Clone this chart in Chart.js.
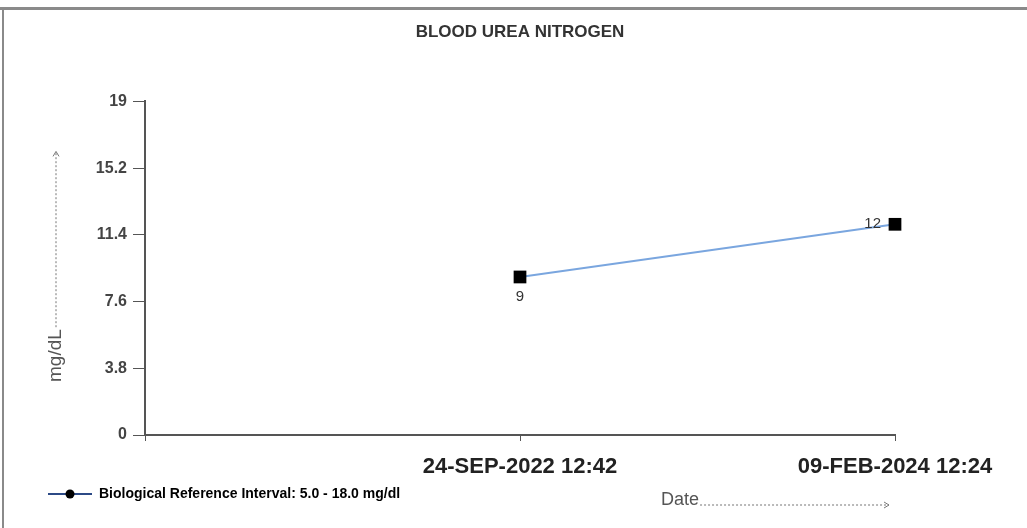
<!DOCTYPE html>
<html>
<head>
<meta charset="utf-8">
<script src="https://cdn.jsdelivr.net/npm/chart.js@4/dist/chart.umd.min.js"></script>
<style>
    html, body { margin: 0; padding: 0; background: #fff; }
    #wrap { width: 1027px; height: 528px; position: relative; }
</style>
</head>
<body>
<div id="wrap"><canvas id="canvas1"></canvas></div>
<script>
// du lieu doc tu hinh
const NgayXN = ['', '24-SEP-2022 12:42', '09-FEB-2024 12:24'];
const GiaTriBUN = [null, 9, 12];
const MocTrucY = [0, 3.8, 7.6, 11.4, 15.2, 19];
const TieuDe = 'BLOOD UREA NITROGEN';
const ChuThich = 'Biological Reference Interval: 5.0 - 18.0 mg/dl';
const TenTrucY = 'mg/dL';
const TenTrucX = 'Date';

const FONT = '"Liberation Sans", Arial, sans-serif';

function HinhChuThich() {
    // line + dot marker for the legend
    const c = document.createElement('canvas');
    c.width = 44;
    c.height = 12;
    const ctx = c.getContext('2d');
    ctx.strokeStyle = '#2c4a86';
    ctx.lineWidth = 2;
    ctx.beginPath();
    ctx.moveTo(0, 6);
    ctx.lineTo(44, 6);
    ctx.stroke();
    ctx.fillStyle = '#000';
    ctx.beginPath();
    ctx.arc(22, 6, 4.5, 0, Math.PI * 2);
    ctx.fill();
    return c;
}

const veThem = {
    id: 'veThem',
    beforeDraw(chart) {
        const ctx = chart.ctx;
        ctx.save();
        ctx.fillStyle = '#8a8a8a';
        ctx.fillRect(0, 7, chart.width, 3);
        ctx.fillRect(2, 7, 2, chart.height - 7);
        ctx.restore();
    },
    afterDatasetsDraw(chart) {
        const ctx = chart.ctx;
        const area = chart.chartArea;
        const meta = chart.getDatasetMeta(0);
        const ds = chart.data.datasets[0].data;
        ctx.save();
        ctx.font = '15px ' + FONT;
        ctx.fillStyle = '#333';
        meta.data.forEach(function (pt, i) {
            if (ds[i] == null) return;
            if (i === ds.length - 1) {
                ctx.textAlign = 'right';
                ctx.textBaseline = 'middle';
                ctx.fillText(ds[i], pt.x - 14, pt.y);
            } else {
                ctx.textAlign = 'center';
                ctx.textBaseline = 'top';
                ctx.fillText(ds[i], pt.x, pt.y + 12);
            }
        });

        // y axis title with dotted arrow
        ctx.save();
        ctx.translate(56, area.bottom - 53);
        ctx.rotate(-Math.PI / 2);
        ctx.font = '19px ' + FONT;
        ctx.fillStyle = '#555';
        ctx.textAlign = 'left';
        ctx.textBaseline = 'middle';
        ctx.fillText(TenTrucY, 0, 0);
        const w = ctx.measureText(TenTrucY).width;
        const len = area.bottom - 53 - (area.top + 50);
        ctx.strokeStyle = '#777';
        ctx.lineWidth = 1;
        ctx.setLineDash([2, 2]);
        ctx.beginPath();
        ctx.moveTo(w + 2, 0);
        ctx.lineTo(len, 0);
        ctx.stroke();
        ctx.setLineDash([]);
        ctx.beginPath();
        ctx.moveTo(len - 5, -3);
        ctx.lineTo(len, 0);
        ctx.lineTo(len - 5, 3);
        ctx.stroke();
        ctx.restore();

        // x axis title with dotted arrow
        const x0 = area.right - 234;
        const y0 = area.bottom + 65;
        ctx.font = '18px ' + FONT;
        ctx.fillStyle = '#555';
        ctx.textAlign = 'left';
        ctx.textBaseline = 'middle';
        ctx.fillText(TenTrucX, x0, y0);
        const wx = ctx.measureText(TenTrucX).width;
        ctx.strokeStyle = '#777';
        ctx.lineWidth = 1;
        ctx.setLineDash([2, 2]);
        ctx.beginPath();
        ctx.moveTo(x0 + wx + 1, y0 + 5);
        ctx.lineTo(area.right - 6, y0 + 5);
        ctx.stroke();
        ctx.setLineDash([]);
        ctx.beginPath();
        ctx.moveTo(area.right - 11, y0 + 2);
        ctx.lineTo(area.right - 6, y0 + 5);
        ctx.lineTo(area.right - 11, y0 + 8);
        ctx.stroke();
        ctx.restore();
    }
};

function VeBieuDoBUN() {
    const data = {
        labels: NgayXN,
        datasets: [{
            label: ChuThich,
            data: GiaTriBUN,
            borderColor: '#7aa6df',
            borderWidth: 2,
            pointStyle: 'rect',
            pointRadius: 9,
            pointHoverRadius: 9,
            pointBackgroundColor: '#000',
            pointBorderColor: '#000',
            pointBorderWidth: 0,
            clip: false
        }]
    };

    const config = {
        type: 'line',
        data: data,
        options: {
            responsive: false,
            animation: false,
            maintainAspectRatio: false,
            layout: {
                padding: { left: 38, right: 132, top: 0, bottom: 17 }
            },
            scales: {
                x: {
                    offset: false,
                    afterFit: function (scale) { scale.height = 42; },
                    grid: {
                        display: true,
                        drawOnChartArea: false,
                        drawTicks: true,
                        tickLength: 6,
                        color: '#555'
                    },
                    border: { color: '#555', width: 2 },
                    ticks: {
                        padding: 13,
                        maxRotation: 0,
                        autoSkip: false,
                        color: '#222',
                        font: { family: FONT, size: 22, weight: 'bold' }
                    }
                },
                y: {
                    min: 0,
                    max: 19,
                    afterFit: function (scale) { scale.width = 107; },
                    afterBuildTicks: function (scale) {
                        scale.ticks = MocTrucY.map(function (v) { return { value: v }; });
                    },
                    grid: {
                        display: true,
                        drawOnChartArea: false,
                        drawTicks: true,
                        tickLength: 12,
                        color: '#555'
                    },
                    border: { color: '#555', width: 2 },
                    ticks: {
                        padding: 6,
                        color: '#444',
                        font: { family: FONT, size: 16, weight: 'bold' },
                        callback: function (v) { return String(v); }
                    }
                }
            },
            plugins: {
                title: {
                    display: true,
                    fullSize: false,
                    text: TieuDe,
                    color: '#333',
                    padding: { top: 22, bottom: 59 },
                    font: { family: FONT, size: 17, weight: 'bold' }
                },
                legend: {
                    display: true,
                    position: 'bottom',
                    align: 'start',
                    labels: {
                        usePointStyle: true,
                        pointStyleWidth: 44,
                        padding: 10,
                        color: '#333',
                        font: { family: FONT, size: 14, weight: 'bold' },
                        generateLabels: function (chart) {
                            return [{
                                text: ChuThich,
                                pointStyle: HinhChuThich(),
                                fillStyle: '#000',
                                strokeStyle: '#000',
                                lineWidth: 0,
                                hidden: false,
                                datasetIndex: 0
                            }];
                        }
                    }
                },
                tooltip: { enabled: false }
            }
        },
        plugins: [veThem]
    };

    const canvas = document.getElementById('canvas1');
    canvas.width = 1027;
    canvas.height = 528;
    const chart = new Chart(canvas, config);
}

VeBieuDoBUN();
</script>
</body>
</html>
